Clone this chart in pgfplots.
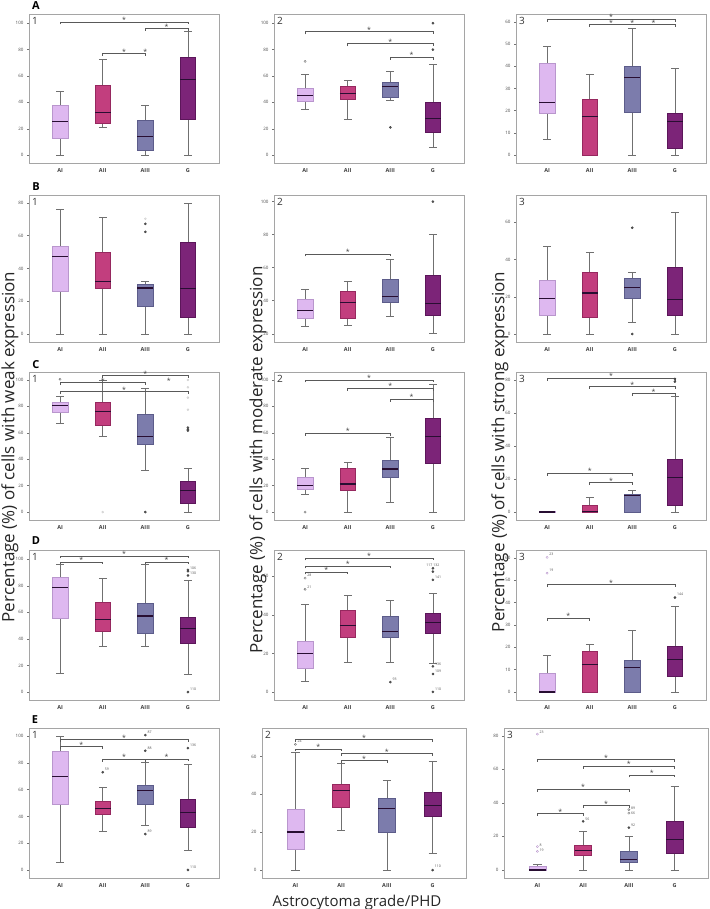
\documentclass[border=0pt]{standalone}
\usepackage{pgfplots}
\pgfplotsset{compat=1.18}
\usepgfplotslibrary{statistics}
\usepackage{fontspec}
\setmainfont{Open Sans}
\definecolor{f1}{RGB}{222,184,240}
\definecolor{d1}{RGB}{185,150,205}
\definecolor{f2}{RGB}{194,62,126}
\definecolor{d2}{RGB}{150,40,95}
\definecolor{f3}{RGB}{124,124,172}
\definecolor{d3}{RGB}{92,92,138}
\definecolor{f4}{RGB}{124,36,120}
\definecolor{d4}{RGB}{92,22,90}
\definecolor{wh}{RGB}{112,112,112}
\definecolor{md}{RGB}{40,14,50}
\definecolor{fr}{RGB}{165,165,165}
\pgfplotsset{
  panel/.style={scale only axis, width=190pt, height=148pt, xmin=0.27, xmax=4.73,
    xtick={1,2,3,4}, xticklabels={AI,AII,AIII,G},
    xticklabel style={font=\fontsize{5.5}{6}\selectfont\bfseries, text=black!75},
    yticklabel style={font=\fontsize{4.5}{5}\selectfont, text=black!70},
    /pgf/number format/assume math mode=true,
    axis line style={fr, line width=0.8pt}, xtick style={draw=none},
    ytick style={draw=black!55, line width=0.4pt}, major tick length=2pt,
    tick align=outside, ytick pos=left, xtick pos=bottom, clip=false,
    boxplot/draw direction=y,
    boxplot/box extend=0.37, boxplot/whisker extend=0.18},
  bx/.style 2 args={draw=wh, line width=0.6pt, solid, no markers,
    boxplot/every box/.style={draw=#2, fill=#1, line width=0.6pt},
    boxplot/every whisker/.style={draw=wh, line width=0.6pt},
    boxplot/every median/.style={draw=md, line width=1.2pt}},
  b1/.style={bx={f1}{d1}}, b2/.style={bx={f2}{d2}},
  b3/.style={bx={f3}{d3}}, b4/.style={bx={f4}{d4}},
}
\newcommand{\bp}[6]{\addplot[b#1, boxplot prepared={draw position=#1, lower whisker=#2, lower quartile=#3, median=#4, upper quartile=#5, upper whisker=#6}] coordinates {};}
\newcommand{\od}[1]{\addplot[only marks, mark=*, mark size=1.1pt, draw=black!75, fill=black!65] coordinates {#1};}
\newcommand{\ol}[1]{\addplot[only marks, mark=*, mark size=1.0pt, draw=black!18, fill=black!10] coordinates {#1};}
\newcommand{\oo}[1]{\addplot[only marks, mark=o, mark size=1.1pt, draw=black!55, line width=0.4pt] coordinates {#1};}
\newcommand{\olc}[1]{\addplot[only marks, mark=o, mark size=1.1pt, draw=d1, line width=0.4pt] coordinates {#1};}
\newcommand{\st}[2]{\node[font=\fontsize{7}{7}\selectfont, text=black!75, inner sep=0pt] at ([yshift=2pt]axis cs:#1,#2) {*};}
\newcommand{\br}[4]{\draw[black!65, line width=0.6pt] ([yshift=-2.5pt]axis cs:#1,#3) -- (axis cs:#1,#3) -- (axis cs:#2,#3) -- ([yshift=-2.5pt]axis cs:#2,#3); \st{#4}{#3}}
\newcommand{\num}[1]{\node[anchor=north west, font=\fontsize{10}{10}\selectfont, text=black!80, inner sep=0pt] at ([xshift=3pt,yshift=-3pt]rel axis cs:0,1) {#1};}
\newcommand{\lab}[3]{\node[font=\fontsize{3.5}{4}\selectfont, anchor=west, text=black!70, inner sep=0.5pt] at ([xshift=1.5pt]axis cs:#1,#2) {#3};}
\begin{document}
\begin{tikzpicture}
\path[use as bounding box] (0,0) rectangle (709pt,909pt);
% ---------------- Row A
\begin{axis}[panel, height=149pt, at={(29pt,746pt)}, ymin=-6, ymax=107, ytick={0,20,...,100}]
\bp{1}{0}{13}{25.7}{38}{48}
\bp{2}{21}{24}{32.5}{53}{73}
\bp{3}{0}{4}{14}{26.5}{38}
\bp{4}{0}{27}{57.5}{74}{94}
\st{3}{77}
\br{1}{4}{101}{2.5}
\br{3}{4}{96}{3.5}
\br{2}{3}{77}{2.5}
\num{1}
\end{axis}
\begin{axis}[panel, height=149pt, at={(274pt,746pt)}, ymin=-6, ymax=107, ytick={0,20,...,100}]
\bp{1}{35}{41}{45.3}{51}{61}
\bp{2}{27}{42}{46.8}{52}{56.4}
\bp{3}{41.5}{44}{52}{55}{63.5}
\bp{4}{6}{17}{28}{40}{68.5}
\oo{(1,71)}
\od{(3,21) (4,100) (4,80)}
\br{1}{4}{93.5}{2.5}
\br{2}{4}{84.4}{3}
\br{3}{4}{74.3}{3.5}
\num{2}
\end{axis}
\begin{axis}[panel, height=149pt, at={(516pt,746pt)}, ymin=-3.6, ymax=63.6, ytick={0,10,...,60}]
\bp{1}{7}{19}{23.7}{41.3}{49.2}
\bp{2}{0}{0}{17.2}{25}{36.2}
\bp{3}{0}{19.1}{35.1}{40.1}{57.3}
\bp{4}{0}{3.2}{15.2}{19}{39}
\br{1}{4}{61.2}{2.5}
\br{2}{4}{58.8}{3}
\st{2.5}{58.8}\st{3.5}{58.8}
\num{3}
\end{axis}
% ---------------- Row B
\begin{axis}[panel, height=147pt, at={(29pt,567pt)}, ymin=-4.9, ymax=84.8, ytick={0,20,...,80}]
\bp{1}{0}{26.1}{47.3}{53.6}{76.2}
\bp{2}{0}{28.1}{32.2}{50.1}{71.3}
\bp{3}{0}{17.1}{28.1}{30.1}{32.2}
\bp{4}{0}{10.2}{27.7}{56.2}{80}
\ol{(3,70.3)}
\od{(3,67.2) (3,62.3)}
\num{1}
\end{axis}
\begin{axis}[panel, height=147pt, at={(274pt,567pt)}, ymin=15, ymax=104, ytick={20,40,...,100}]
\bp{1}{24.3}{29.2}{34.1}{41}{47.1}
\bp{2}{25.3}{29.2}{38.9}{45.9}{52}
\bp{3}{30.4}{39.1}{42.6}{53}{65.2}
\bp{4}{20}{31.2}{38.5}{55.2}{79.9}
\od{(4,100)}
\br{1}{3}{68.3}{2}
\num{2}
\end{axis}
\begin{axis}[panel, height=147pt, at={(516pt,567pt)}, ymin=-4.3, ymax=74.6, ytick={0,20,...,60}]
\bp{1}{0}{10}{19}{29}{47}
\bp{2}{0}{9}{22}{33}{44.1}
\bp{3}{6.1}{19}{25.1}{29.9}{33}
\bp{4}{0}{10}{18.6}{35.8}{65.2}
\od{(3,57) (3,0)}
\num{3}
\end{axis}
% ---------------- Row C
\begin{axis}[panel, height=148pt, at={(29pt,389pt)}, ymin=-6, ymax=106, ytick={0,20,...,100}]
\bp{1}{67.4}{75.5}{80.6}{83.3}{87.4}
\bp{2}{57.3}{65.4}{76.3}{83.3}{100}
\bp{3}{31.3}{51}{57.3}{73.7}{93.4}
\bp{4}{0}{6.3}{16.4}{23.2}{33.3}
\oo{(1,100.5)}
\ol{(2,0) (4,100) (4,94.4) (4,86.6) (4,77.5)}
\od{(3,0) (4,63.9) (4,62.6) (4,61.6)}
\br{2}{4}{103.3}{3}
\br{1}{3}{98}{2}
\br{1}{4}{91.2}{2.5}
\st{3.55}{98}
\num{1}
\end{axis}
\begin{axis}[panel, height=148pt, at={(274pt,389pt)}, ymin=-6, ymax=106, ytick={0,20,...,100}]
\bp{1}{13.1}{17.2}{20.2}{26.3}{33.3}
\bp{2}{0}{16.2}{21.2}{33.3}{37.4}
\bp{3}{7.1}{26.3}{32.6}{39.4}{56.3}
\bp{4}{0}{37.1}{57.3}{71.2}{96.5}
\oo{(1,0)}
\br{1}{4}{100}{2.5}
\br{2}{4}{93.7}{3}
\br{3}{4}{85.4}{3.5}
\br{1}{3}{59.8}{2}
\num{2}
\end{axis}
\begin{axis}[panel, height=148pt, at={(516pt,389pt)}, ymin=-4.8, ymax=84.8, ytick={0,20,...,80}]
\bp{1}{0}{0}{0}{0.3}{0.3}
\bp{2}{0}{0}{0.5}{4}{8.9}
\bp{3}{0}{0}{9.9}{10.9}{13}
\bp{4}{0}{4.3}{20.9}{32.2}{70}
\od{(4,80.6) (4,79)}
\br{1}{4}{81}{2.5}
\br{2}{4}{76.1}{3}
\br{3}{4}{71.7}{3.5}
\br{1}{3}{23.5}{2}
\br{2}{3}{17.8}{2.5}
\num{3}
\end{axis}
% ---------------- Row D
\begin{axis}[panel, height=150pt, at={(29pt,209pt)}, ymin=-6, ymax=107, ytick={0,20,...,100}]
\bp{1}{14.3}{55.5}{78.5}{86.5}{96}
\bp{2}{34.5}{45.5}{54.8}{67.8}{85.8}
\bp{3}{34.5}{44.5}{57.3}{66.5}{96}
\bp{4}{13.5}{36.5}{47.8}{56.5}{83.8}
\od{(4,92) (4,91) (4,87.8) (4,0)}
\lab{4}{93.5}{106}\lab{4}{89.5}{130}\lab{4}{2}{110}
\br{1}{4}{102.5}{2.5}
\br{1}{2}{98}{1.5}
\br{3}{4}{98}{3.5}
\num{1}
\end{axis}
\begin{axis}[panel, height=150pt, at={(274pt,209pt)}, ymin=-4.2, ymax=73.7, ytick={0,20,...,60}]
\bp{1}{5.3}{12.5}{19.8}{26.1}{45.3}
\bp{2}{15.3}{28.2}{34.4}{42.3}{50.4}
\bp{3}{15.3}{28.2}{31.4}{39.1}{47.4}
\bp{4}{14.6}{30.2}{36.1}{40.9}{51.2}
\oo{(1,59.1) (1,53.3)}
\od{(3,5.1) (4,64.2) (4,62.5) (4,58.2) (4,13.3) (4,9.3) (4,0)}
\lab{1}{60.5}{28}\lab{1}{54.5}{21}\lab{3}{6.5}{93}
\node[font=\fontsize{3.5}{4}\selectfont, text=black!70, inner sep=0.5pt, anchor=south] at (axis cs:4,65) {117 132};
\lab{4}{59.5}{141}\lab{4}{14.5}{136}\lab{4}{10.5}{109}\lab{4}{1.5}{110}
\br{1}{4}{69.6}{2.5}
\br{1}{3}{65.4}{2}
\br{1}{2}{62.3}{1.5}
\num{2}
\end{axis}
\begin{axis}[panel, height=150pt, at={(516pt,209pt)}, ymin=-3.6, ymax=63.6, ytick={0,10,...,60}]
\bp{1}{0}{0}{0}{8.3}{16.2}
\bp{2}{0}{0}{12.3}{18.3}{21.4}
\bp{3}{0}{0}{10.8}{14.3}{27.5}
\bp{4}{0}{7.1}{14.4}{20.4}{38.3}
\olc{(1,60.3) (1,53.2)}
\od{(4,42.3)}
\lab{1}{61.5}{23}\lab{1}{54.5}{19}\lab{4}{43.8}{144}
\br{1}{4}{48.1}{2.5}
\br{1}{2}{33.1}{1.5}
\num{3}
\end{axis}
% ---------------- Row E
\begin{axis}[panel, height=150pt, at={(29pt,31pt)}, ymin=-6, ymax=106, ytick={0,20,...,100}]
\bp{1}{6}{49.1}{69.5}{88.8}{100}
\bp{2}{28.8}{41.9}{45.7}{50.9}{61.8}
\bp{3}{33}{49.1}{59.6}{63}{80.4}
\bp{4}{15}{32}{43.2}{52.4}{79}
\od{(2,73) (3,100.7) (3,89) (3,26.8) (4,91) (4,0)}
\lab{2}{75}{59}\lab{3}{102.5}{87}\lab{3}{91}{88}\lab{3}{29}{89}\lab{4}{93}{136}\lab{4}{2}{110}
\br{1}{4}{97.3}{2.5}
\br{1}{2}{92.3}{1.5}
\br{2}{3}{82.6}{2.5}
\br{3}{4}{83}{3.5}
\num{1}
\end{axis}
\begin{axis}[panel, width=204pt, height=150pt, at={(262pt,31pt)}, ymin=-4.2, ymax=75, ytick={0,20,...,60}]
\bp{1}{0}{10.9}{20.1}{32.3}{62.4}
\bp{2}{21.2}{33}{42}{45.1}{56.4}
\bp{3}{0}{19.9}{32.5}{38.1}{47.3}
\bp{4}{9}{28.2}{34.2}{41.1}{57.3}
\oo{(1,66.4)}
\od{(4,0)}
\lab{1}{68}{24}\lab{4}{2}{110}
\br{1}{4}{69}{2.5}
\br{1}{2}{64}{1.5}
\br{2}{4}{61.6}{3}
\br{2}{3}{57.7}{2.5}
\num{2}
\end{axis}
\begin{axis}[panel, width=204pt, height=150pt, at={(504pt,31pt)}, ymin=-4.8, ymax=84.6, ytick={0,20,...,80}]
\bp{1}{0}{0}{0}{2.4}{3.4}
\bp{2}{0}{8.9}{11.5}{14.9}{23}
\bp{3}{0}{4.8}{6.3}{10.9}{20.2}
\bp{4}{0}{9.9}{18.1}{28.8}{49.8}
\olc{(1,81) (1,13.9) (1,11.1)}
\oo{(3,36) (3,33.9)}
\od{(2,29) (3,25.2)}
\lab{1}{82}{23}\lab{1}{15}{8}\lab{1}{11.5}{19}\lab{2}{30.5}{56}\lab{3}{37}{89}\lab{3}{33.5}{66}\lab{3}{26.5}{92}
\br{1}{4}{65.9}{2.5}
\br{2}{4}{61.9}{3}
\br{3}{4}{56.7}{3.5}
\br{1}{3}{48.2}{2}
\br{2}{3}{38.3}{2.5}
\br{1}{2}{33.5}{1.5}
\num{3}
\end{axis}
% ---------------- labels
\node[font=\fontsize{11}{11}\selectfont\bfseries] at (36pt,903pt) {A};
\node[font=\fontsize{11}{11}\selectfont\bfseries] at (36pt,722pt) {B};
\node[font=\fontsize{11}{11}\selectfont\bfseries] at (36pt,544pt) {C};
\node[font=\fontsize{11}{11}\selectfont\bfseries] at (36pt,368pt) {D};
\node[font=\fontsize{11}{11}\selectfont\bfseries] at (35pt,189pt) {E};
\node[rotate=90, font=\fontsize{17}{17}\selectfont, text=black!85] at (10pt,462pt) {Percentage (\%) of cells with weak expression};
\node[rotate=90, font=\fontsize{17}{17}\selectfont, text=black!85] at (258pt,449pt) {Percentage (\%) of cells with moderate expression};
\node[rotate=90, font=\fontsize{17}{17}\selectfont, text=black!85] at (500pt,457pt) {Percentage (\%) of cells with strong expression};
\node[font=\fontsize{15}{15}\selectfont, text=black!85, anchor=base] at (357pt,2pt) {Astrocytoma grade/PHD};
\end{tikzpicture}
\end{document}
